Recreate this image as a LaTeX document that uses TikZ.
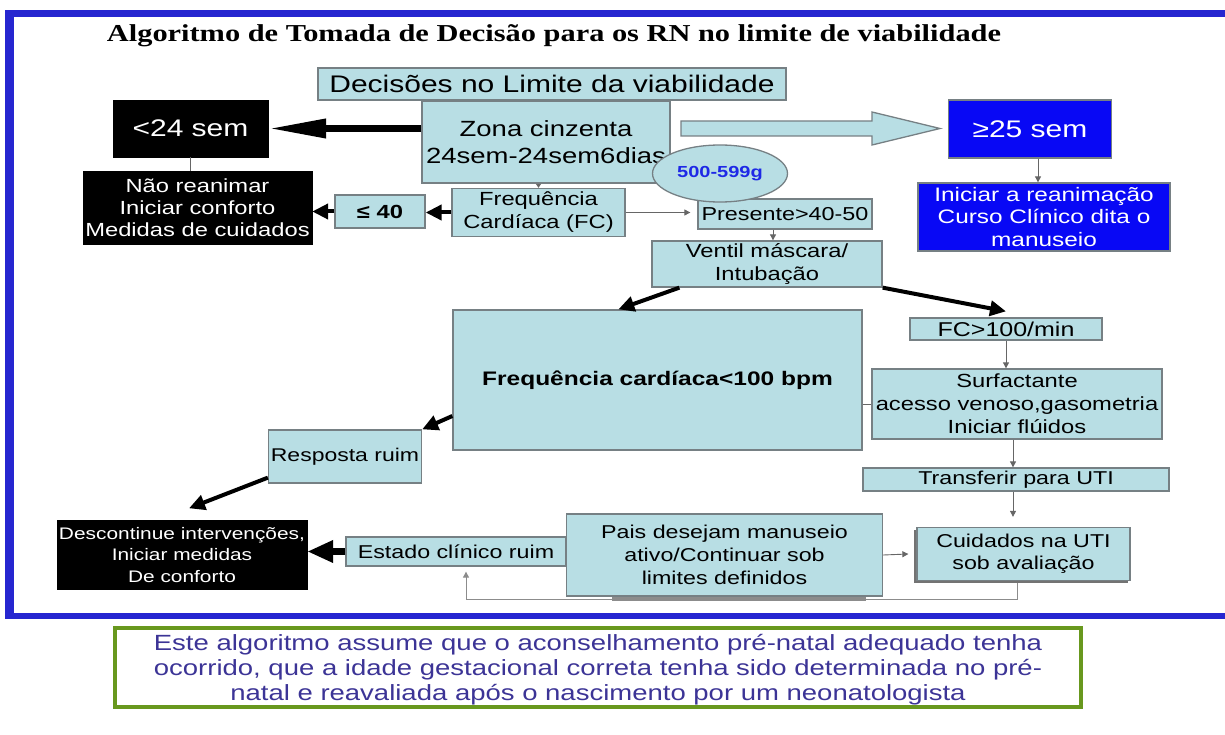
\documentclass[tikz,border=0pt]{standalone}
\usepackage{fontspec}
\setmainfont{Liberation Sans}[FakeStretch=1.25]
\newfontfamily\titlefont{Liberation Serif}[FakeStretch=1.25]
\usepackage{tikz}
\usetikzlibrary{arrows.meta,backgrounds}
\usetikzlibrary{shapes.geometric}
\usetikzlibrary{calc}
\definecolor{box-cyan}{RGB}{184,222,228}
\definecolor{box-line}{RGB}{118,128,132}
\definecolor{box-blue}{RGB}{8,8,245}
\definecolor{frame-blue}{RGB}{38,38,208}
\definecolor{note-green}{RGB}{104,152,30}
\definecolor{note-text}{RGB}{60,52,150}
\definecolor{peso-blue}{RGB}{30,40,230}
\tikzstyle{cyanbox}=[draw=box-line, fill=box-cyan, line width=1.3pt, align=center, inner sep=0pt]
\tikzstyle{blackbox}=[draw=black, fill=black, text=white, align=center, inner sep=0pt]
\tikzstyle{bluebox}=[draw=box-line, fill=box-blue, text=white, line width=1.3pt, align=center, inner sep=0pt]
\tikzstyle{thinline}=[draw=black!60, line width=0.9pt]
\tikzstyle{thinarrow}=[draw=black!60, line width=0.9pt, -{Triangle[length=6pt,width=6pt]}]
\tikzstyle{thickarrow}=[line width=4pt, -{Triangle[length=16pt,width=15pt]}]
\tikzstyle{heavyarrow}=[line width=7pt, -{Triangle[length=26pt,width=21pt]}]
\tikzstyle{longarrow}=[line width=7pt, -{Triangle[length=58pt,width=18pt]}]
\newcommand{\fsz}[2]{\fontsize{#1}{#2}\selectfont}

\begin{document}
\begin{tikzpicture}[x=1pt,y=-1pt]
	\useasboundingbox (0,0) rectangle (1225,735);
	% frame of the slide
	\fill[frame-blue] (5,10) rectangle (1225,17);
	\fill[frame-blue] (5,10) rectangle (14,619);
	\fill[frame-blue] (5,613) rectangle (1225,619);
	\node[font=\titlefont\bfseries\fsz{24.3}{28}, anchor=base] (titulo) at (554,42) {Algoritmo de Tomada de Decisão para os RN no limite de viabilidade};
	% hollow arrow to the right
	\draw[draw=box-line, fill=box-cyan, line width=1.3pt] (681,121) -- (872,121) -- (872,112) -- (940,128.5) -- (872,145) -- (872,136) -- (681,136) -- cycle;
	% boxes
	\node[cyanbox, minimum width=468pt, minimum height=32pt, font=\fsz{24}{28}] (limite) at (552,84) {Decisões no Limite da viabilidade};
	\node[cyanbox, minimum width=248pt, minimum height=82pt, font=\fsz{22}{27}] (zona) at (546,142) {Zona cinzenta\\24sem-24sem6dias};
	\node[blackbox, minimum width=155pt, minimum height=57pt, font=\fsz{24}{28}] (menor) at (190.5,128.5) {<24 sem};
	\node[bluebox, minimum width=163pt, minimum height=58pt, font=\fsz{24}{28}] (maior) at (1030,129) {≥25 sem};
	\node[bluebox, minimum width=252pt, minimum height=68pt, font=\fsz{19.5}{22.5}] (reanima) at (1044,217) {Iniciar a reanimação\\Curso Clínico dita o\\manuseio};
	\node[blackbox, minimum width=229pt, minimum height=73pt, font=\fsz{19}{22}] (naoreanima) at (197.5,208) {Não reanimar\\Iniciar conforto\\Medidas de cuidados};
	\node[cyanbox, minimum width=90pt, minimum height=33pt, font=\bfseries\fsz{19}{22}] (ate40) at (380,211.5) {≤ 40};
	\node[cyanbox, minimum width=173pt, minimum height=48pt, font=\fsz{19}{23}] (fc) at (538.5,212.5) {Frequência\\Cardíaca (FC)};
	\node[cyanbox, minimum width=174pt, minimum height=30pt, font=\fsz{18.7}{22}] (presente) at (785,214) {Presente>40-50};
	\node[ellipse, draw=box-line, fill=box-cyan, line width=1.3pt, minimum width=135pt, minimum height=57pt, inner sep=0pt, text=peso-blue, font=\bfseries\fsz{16}{18}] (peso) at (720,173.5) {500-599g};
	\node[cyanbox, minimum width=230pt, minimum height=46pt, font=\fsz{19}{23}] (ventil) at (767,264) {Ventil máscara/\\Intubação};
	\node[cyanbox, minimum width=409pt, minimum height=140pt, font=\bfseries\fsz{19.6}{23}] (fcbaixa) at (657.5,380) {Frequência cardíaca<100 bpm};
	\node[cyanbox, minimum width=192pt, minimum height=22pt, font=\fsz{20}{22}] (fcalta) at (1006,329) {FC>100/min};
	\node[cyanbox, minimum width=290pt, minimum height=70pt, font=\fsz{19}{23}] (surf) at (1017,404) {Surfactante\\acesso venoso,gasometria\\Iniciar flúidos};
	\node[cyanbox, minimum width=306pt, minimum height=23pt, font=\fsz{18.6}{22}] (uti) at (1016,479.5) {Transferir para UTI};
	\fill[black!55] (914,530) rectangle (1128,583);
	\node[cyanbox, minimum width=213pt, minimum height=53pt, font=\fsz{18.6}{22}] (cuidados) at (1023.5,554) {Cuidados na UTI\\sob avaliação};
	\fill[black!45] (612,592) rectangle (866,601);
	\node[cyanbox, minimum width=316pt, minimum height=82pt, font=\fsz{18.6}{23}] (pais) at (724.5,555) {Pais desejam manuseio\\ativo/Continuar sob\\limites definidos};
	\node[cyanbox, minimum width=220pt, minimum height=29pt, font=\fsz{18.6}{22}] (estado) at (456,551.5) {Estado clínico ruim};
	\node[blackbox, minimum width=250pt, minimum height=69pt, font=\fsz{16.7}{21.5}] (descont) at (182,555) {Descontinue intervenções,\\Iniciar medidas\\De conforto};
	\node[cyanbox, minimum width=153pt, minimum height=53pt, font=\fsz{18.4}{22}] (resposta) at (345,456.5) {Resposta ruim};
	% note under the chart
	\draw[note-green, line width=4.5pt] (115,628) rectangle (1081,707);
	\node[align=center, text=note-text, font=\fsz{22}{25}] (nota) at (598,670) {Este algoritmo assume que o aconselhamento pré-natal adequado tenha\\ocorrido, que a idade gestacional correta tenha sido determinada no pré-\\natal e reavaliada após o nascimento por um neonatologista};
	% connectors
	\draw[longarrow] (zona.west |- menor.east) -- (menor.east);
	\draw[thinline] (menor.south) -- (menor.south |- naoreanima.north);
	\draw[thinarrow] ($(maior.south)+(8,0)$) -- ($(maior.south |- reanima.north)+(8,0)$);
	\draw[thickarrow] (ate40.west) -- (naoreanima.east |- ate40.west);
	\draw[thickarrow] (fc.west) -- (ate40.east |- fc.west);
	\draw[thinarrow, -{Triangle[length=4pt,width=5pt]}] (fc.north |- zona.south) -- (fc.north);
	\draw[thinarrow] (fc.east) -- ($(presente.west |- fc.east)+(-7,0)$);
	\draw[thinarrow] ($(presente.south)+(-12,0)$) -- ($(presente.south |- ventil.north)+(-12,0)$);
	\draw[thickarrow] ($(ventil.south west)+(28,0)$) -- ($(fcbaixa.north west)+(166,0)$);
	\draw[thickarrow] (ventil.south east) -- ($(fcalta.north)+(0,-6)$);
	\draw[thinarrow] (fcalta.south) -- (fcalta.south |- surf.north);
	\draw[thinline] (fcbaixa.east |- surf.west) -- (surf.west);
	\draw[thinarrow] ($(surf.south)+(-4,0)$) -- ($(surf.south |- uti.north)+(-4,0)$);
	\draw[thinarrow] ($(uti.south)+(-3,0)$) -- ($(uti.south |- cuidados.north)+(-3,-10)$);
	\draw[thinarrow] (pais.east) -- ($(cuidados.west)+(-8,0)$);
	\begin{scope}[on background layer]
		\draw[thinarrow, draw=black!45] ($(cuidados.south)+(-6,0)$) -- ++(0,18) -| ($(estado.south)+(10,5)$);
	\end{scope}
	\draw[heavyarrow] (estado.west) -- (descont.east |- estado.west);
	\draw[thickarrow] ($(fcbaixa.west)+(0,36)$) -- (resposta.north east);
	\draw[thickarrow] ($(resposta.south west)+(0,-6)$) -- ($(descont.north)+(7,-12)$);
\end{tikzpicture}
\end{document}
